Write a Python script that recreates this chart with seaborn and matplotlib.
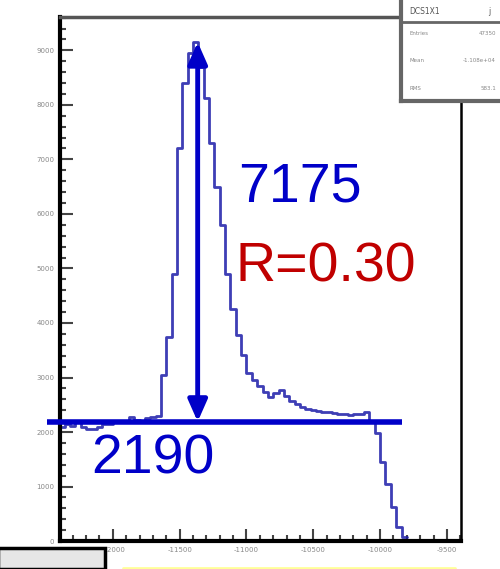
import numpy as np
import pandas as pd
import seaborn as sns
import matplotlib.pyplot as plt
from matplotlib.patches import Rectangle, FancyArrowPatch
from matplotlib.ticker import MultipleLocator

# histogram contents (bins of 40 starting at -12400)
bin_lo = -12400
bin_w = 40
counts = [2100, 2150, 2120, 2180, 2100, 2050, 2050, 2100, 2150, 2150,
          2200, 2180, 2200, 2280, 2220, 2200, 2250, 2280, 2300, 3050,
          3750, 4900, 7200, 8400, 8950, 9150, 8700, 8130, 7300, 6500,
          5800, 4900, 4250, 3780, 3410, 3080, 2950, 2840, 2730, 2640,
          2715, 2770, 2660, 2570, 2510, 2460, 2420, 2400, 2385, 2370,
          2360, 2350, 2340, 2330, 2320, 2330, 2340, 2360, 2200, 1980,
          1450, 1050, 620, 250, 80]

x_ticks = [-12000, -11500, -11000, -10500, -10000, -9500]
y_ticks = [0, 1000, 2000, 3000, 4000, 5000, 6000, 7000, 8000, 9000]

baseline = 2190
arrow_x = -11365
arrow_top = 9150
line_x = [-12495, -9840]

stat_names = ['Entries', 'Mean', 'RMS']
stat_values = ['47350', '-1.108e+04', '583.1']

blue = '#0000c8'
red = '#c00000'

edges = [bin_lo + bin_w * i for i in range(len(counts) + 1)]
df = pd.DataFrame({'x': [e + bin_w / 2 for e in edges[:-1]], 'n': counts})

sns.set_style('white')
fig = plt.figure(figsize=(5.0, 5.69), dpi=100)
ax = fig.add_axes([0.12, 0.049, 0.802, 0.921])

sns.histplot(data=df, x='x', weights='n', bins=edges, element='step', fill=False,
             color='#1c1ca8', linewidth=2, alpha=0.85, ax=ax)

ax.set_xlim(-12395, -9395)
ax.set_ylim(0, 9610)
ax.set_xticks(x_ticks)
ax.set_yticks(y_ticks)
ax.xaxis.set_minor_locator(MultipleLocator(100))
ax.yaxis.set_minor_locator(MultipleLocator(200))
ax.set_xticklabels([str(v) for v in x_ticks], fontsize=5, color='#888888')
ax.set_yticklabels([str(v) for v in y_ticks], fontsize=5, color='#888888')
ax.tick_params(which='major', direction='in', length=9, width=1.5, color='#444444', pad=4)
ax.tick_params(which='minor', direction='in', length=4.5, width=1.5, color='#444444')
ax.tick_params(axis='y', which='both', left=True)
ax.tick_params(axis='x', which='both', bottom=True)
ax.set_xlabel('')
ax.set_ylabel('')

for side, lw, col in [('left', 3, 'black'), ('bottom', 3, 'black'),
                      ('top', 2.5, '#555555'), ('right', 1.8, 'black')]:
    ax.spines[side].set_visible(True)
    ax.spines[side].set_linewidth(lw)
    ax.spines[side].set_color(col)

# annotation: baseline and double arrow
ax.plot(line_x, [baseline, baseline], color=blue, lw=4, clip_on=False,
        solid_capstyle='butt', zorder=5)
arr = FancyArrowPatch((arrow_x, baseline), (arrow_x, arrow_top),
                      arrowstyle='<|-|>,head_length=5.2,head_width=2.3',
                      color=blue, lw=3.5, shrinkA=0, shrinkB=0, zorder=6,
                      mutation_scale=2.5)
ax.add_patch(arr)

W, H = 500, 569
def ftext(px, py, s, color):
    fig.text(px / W, 1 - py / H, s, color=color, fontsize=40,
             family=['Liberation Sans', 'DejaVu Sans'], va='baseline', ha='left')

ftext(238, 202, '7175', blue)
ftext(235, 282, 'R=0.30', red)
ftext(91, 473, '2190', blue)

# stats box in the top right corner
sb = fig.add_axes([401 / W, 1 - 101 / H, 101 / W, 103 / H])
sb.set_xlim(0, 1)
sb.set_ylim(0, 1)
sb.set_xticks([])
sb.set_yticks([])
sb.set_facecolor('white')
for s in sb.spines.values():
    s.set_color('#666666')
    s.set_linewidth(3)
sb.axhline(0.77, color='#666666', lw=2)
sb.text(0.08, 0.87, 'DCS1X1', fontsize=5.5, color='#555555', va='center')
sb.text(0.86, 0.87, 'j', fontsize=5.5, color='#555555', va='center')
for i, (n, v) in enumerate(zip(stat_names, stat_values)):
    yy = 0.66 - i * 0.27
    sb.text(0.08, yy, n, fontsize=4, color='#888888', va='center')
    sb.text(0.94, yy, v, fontsize=4, color='#888888', va='center', ha='right')

# bits of surrounding slide at the bottom
fig.patches.append(Rectangle((-2 / W, 0), 107 / W, 21 / H, transform=fig.transFigure,
                             facecolor='#e6e6e6', edgecolor='black', lw=2.5, zorder=10))
fig.lines.append(plt.Line2D([123 / W, 455 / W], [1.5 / H, 1.5 / H], transform=fig.transFigure,
                            color='#ffff99', lw=2, zorder=10))

fig.savefig('out.png', dpi=100, facecolor='white')
